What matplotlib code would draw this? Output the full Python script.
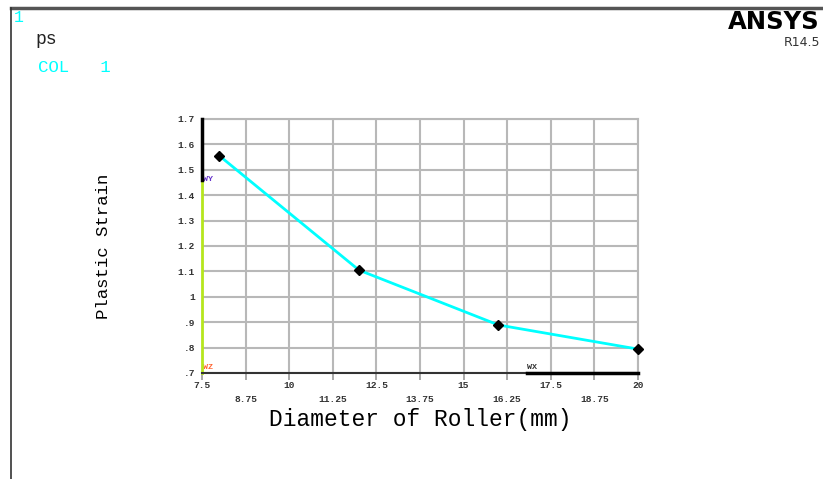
import matplotlib
matplotlib.use('Agg')
import matplotlib.pyplot as plt
import numpy as np

plt.rcParams['font.family'] = ['Liberation Mono', 'DejaVu Sans Mono']

diameter = [8, 12, 16, 20]
strain = [1.555, 1.105, 0.889, 0.794]
x_ticks = [7.5, 8.75, 10, 11.25, 12.5, 13.75, 15, 16.25, 17.5, 18.75, 20]
x_labels = ['7.5', '8.75', '10', '11.25', '12.5', '13.75', '15', '16.25', '17.5', '18.75', '20']
y_ticks = [0.7, 0.8, 0.9, 1.0, 1.1, 1.2, 1.3, 1.4, 1.5, 1.6, 1.7]
y_labels = ['.7', '.8', '.9', '1', '1.1', '1.2', '1.3', '1.4', '1.5', '1.6', '1.7']

fig = plt.figure(figsize=(8.23, 4.79), dpi=100)
fig.patch.set_facecolor('white')

# outer frame of the ANSYS window
fig.add_artist(plt.Line2D([11/823, 1], [1-8/479, 1-8/479], color='#555555', lw=2.5))
fig.add_artist(plt.Line2D([11/823, 11/823], [0, 1-8/479], color='#333333', lw=1.2))

fig.text(14/823, 1-18/479, '1', color='cyan', fontsize=12, va='center')
fig.text(35/823, 1-40/479, 'ps', color='#222222', fontsize=13, va='center')
fig.text(38/823, 1-67/479, 'COL   1', color='cyan', fontsize=12.5, va='center')
fig.text(820/823, 1-22/479, 'ANSYS', color='black', fontsize=17.5, fontweight='bold',
         va='center', ha='right', family='DejaVu Sans')
fig.text(820/823, 1-43/479, 'R14.5', color='#333333', fontsize=9, va='center', ha='right',
         family='DejaVu Sans')

ax = fig.add_axes([202/823, 1-373/479, 436/823, 254/479])
ax.set_xlim(7.5, 20)
ax.set_ylim(0.7, 1.7)

ax.set_xticks(x_ticks)
ax.set_xticklabels([lab if i % 2 == 0 else '\n' + lab for i, lab in enumerate(x_labels)],
                   fontsize=6.8, fontweight='bold', color='#333333', linespacing=1.6)
ax.set_yticks(y_ticks)
ax.set_yticklabels(y_labels, fontsize=6.8, fontweight='bold', color='#333333')
ax.tick_params(axis='x', length=5, color='#999999', width=1.2, pad=1)
ax.tick_params(axis='y', length=0, pad=5)
ax.grid(True, color='#b8b8b8', lw=1.5)

for side in ['top', 'right']:
    ax.spines[side].set_color('#b8b8b8')
    ax.spines[side].set_linewidth(1.5)
ax.spines['left'].set_visible(False)
ax.spines['bottom'].set_visible(False)

# axis lines drawn in segments like the ANSYS plot
ax.plot([0, 0], [0, 0.76], transform=ax.transAxes, color='#b5e61d', lw=2, clip_on=False, zorder=5)
ax.plot([0, 0], [0.76, 1], transform=ax.transAxes, color='black', lw=2.5, clip_on=False, zorder=5)
ax.plot([0, 0.746], [0, 0], transform=ax.transAxes, color='#333333', lw=1.5, clip_on=False, zorder=5)
ax.plot([0.746, 1], [0, 0], transform=ax.transAxes, color='black', lw=2.5, clip_on=False, zorder=5)
ax.text(0.003, 0.763, 'WY', transform=ax.transAxes, color='#6633cc', fontsize=6,
        fontweight='bold', va='center')
ax.text(0.003, 0.022, 'WZ', transform=ax.transAxes, color='#ff6633', fontsize=6,
        fontweight='bold', va='center')
ax.text(0.746, 0.022, 'WX', transform=ax.transAxes, color='#333333', fontsize=6,
        fontweight='bold', va='center')

ax.plot(diameter, strain, color='cyan', lw=2, marker='D', markersize=5,
        markerfacecolor='black', markeredgecolor='black', clip_on=False, zorder=6)

ax.set_xlabel('Diameter of Roller(mm)', fontsize=16.5, labelpad=3)
ax.set_ylabel('Plastic Strain', fontsize=12.5, labelpad=48)

fig.savefig('out.png', dpi=100)
